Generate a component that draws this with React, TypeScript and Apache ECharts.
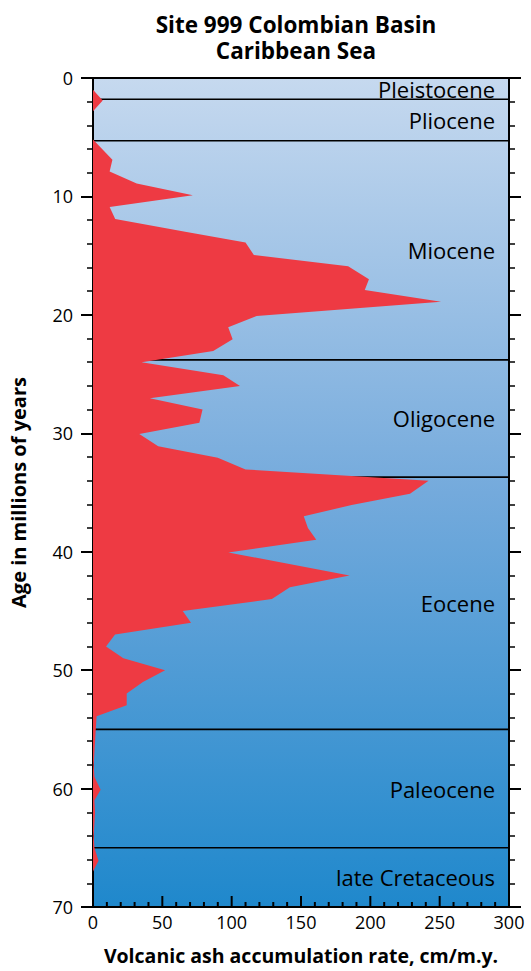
import React, { useEffect, useRef } from "react";
import * as echarts from "echarts";

// Volcanic ash profile: age (m.y.) and accumulation rate (cm/m.y.)
const ages = [1.0, 1.9, 2.8, 5.2, 6.9, 7.9, 8.9, 9.9, 10.9, 11.9, 13.0, 13.9, 14.95, 15.9, 17.0, 17.9, 18.9, 20.1, 21.05, 22.07, 23.06, 24.0, 25.1, 26.0, 27.05, 28.0, 29.1, 30.07, 31.1, 32.07, 33.05, 34.0, 35.1, 36.06, 37.0, 38.0, 39.0, 40.06, 42.0, 43.0, 44.0, 45.0, 46.0, 47.0, 48.0, 49.0, 50.0, 51.0, 51.97, 52.96, 53.9, 55, 56, 57, 58, 59, 60.1, 61, 62, 63, 64, 65, 66.1, 67.0];
const rates = [0, 7, 0, 0, 14, 12, 31.5, 72, 12, 16, 67.5, 110, 116, 184, 199, 196, 251, 118, 97.5, 100.7, 86.7, 35, 94, 106, 41, 79, 76.7, 33.4, 47, 90, 110, 242, 228.6, 186.5, 152, 155, 161, 97.6, 185, 142, 129, 64.7, 70.7, 15.9, 9.4, 21.9, 52, 36, 24.3, 24.3, 2.6, 2, 1.5, 1, 0.5, 1, 5.5, 1, 1.5, 1, 0.5, 1, 4, 0];

// Epochs
const epochNames = ["Pleistocene", "Pliocene", "Miocene", "Oligocene", "Eocene", "Paleocene", "late Cretaceous"];
const epochStarts = [0, 1.8, 5.3, 23.8, 33.7, 55, 65];
const epochEnds = [1.8, 5.3, 23.8, 33.7, 55, 65, 70];

const titleLines = ["Site 999 Colombian Basin", "Caribbean Sea"];

// [min, max, major interval, minor step]
const xTicks = [0, 300, 50, 10];
const yTicks = [0, 70, 10, 2];

const FONT = "'Open Sans', 'Noto Sans', sans-serif";

export default function App() {
  const ref = useRef<HTMLDivElement>(null);
  useEffect(() => {
    if (!ref.current) return;
    const chart = echarts.init(ref.current, undefined, { renderer: "svg" });
    const axisLineStyle = { color: "#000", width: 2 };
    const yAxisBase = {
      type: "value",
      inverse: true,
      min: yTicks[0],
      max: yTicks[1],
      interval: yTicks[2],
      axisLine: { show: true, onZero: false, lineStyle: axisLineStyle },
      axisTick: { show: true, inside: false, length: 12, lineStyle: { color: "#000", width: 2 } },
      minorTick: { show: true, splitNumber: 5, length: 6, lineStyle: { color: "#000", width: 1.5 } },
      splitLine: { show: false },
      minorSplitLine: { show: false },
    };
    const bottomTickValues: number[] = [];
    for (let v = xTicks[0]; v <= xTicks[1]; v += xTicks[3]) bottomTickValues.push(v);

    chart.setOption({
      animation: false,
      textStyle: { fontFamily: FONT },
      grid: {
        left: 93,
        right: 22,
        top: 78,
        bottom: 64,
        show: true,
        borderWidth: 0,
        backgroundColor: new echarts.graphic.LinearGradient(0, 0, 0, 1, [
          { offset: 0, color: "#c6d9ef" },
          { offset: 0.5, color: "#74aadc" },
          { offset: 1, color: "#1f88cc" },
        ]),
      },
      graphic: titleLines.map((t, i) => ({
        type: "text",
        x: 296,
        y: 24 + i * 26,
        style: {
          text: t,
          align: "center",
          verticalAlign: "middle",
          fontFamily: FONT,
          fontSize: 22.5,
          lineHeight: 24,
          fontWeight: "bold",
          fill: "#000",
        },
      })),
      xAxis: [
        {
          type: "value",
          position: "bottom",
          min: xTicks[0],
          max: xTicks[1],
          interval: xTicks[2],
          axisLine: { show: true, onZero: false, lineStyle: axisLineStyle },
          axisTick: { show: false },
          minorTick: { show: false },
          splitLine: { show: false },
          axisLabel: { color: "#000", fontSize: 18, margin: 6, fontFamily: FONT },
          name: "Volcanic ash accumulation rate, cm/m.y.",
          nameLocation: "middle",
          nameGap: 38,
          nameTextStyle: { color: "#000", fontSize: 19.5, fontWeight: "bold", fontFamily: FONT },
        },
        {
          type: "value",
          position: "top",
          min: xTicks[0],
          max: xTicks[1],
          interval: xTicks[2],
          axisLine: { show: true, onZero: false, lineStyle: axisLineStyle },
          axisTick: { show: false },
          minorTick: { show: false },
          axisLabel: { show: false },
          splitLine: { show: false },
        },
      ],
      yAxis: [
        {
          ...yAxisBase,
          position: "left",
          axisLabel: { color: "#000", fontSize: 18, margin: 20, fontFamily: FONT },
          name: "Age in millions of years",
          nameLocation: "middle",
          nameGap: 65,
          nameTextStyle: { color: "#000", fontSize: 20, fontWeight: "bold", fontFamily: FONT },
        },
        {
          ...yAxisBase,
          position: "right",
          axisLabel: { show: false },
        },
      ],
      series: [
        {
          type: "custom",
          name: "epochs",
          coordinateSystem: "cartesian2d",
          z: 1,
          data: epochStarts.map((s, i) => [0, s, epochEnds[i]]),
          encode: { x: 0, y: [1, 2] },
          renderItem: (params: any, api: any) => {
            const i = params.dataIndex;
            const s = api.value(1);
            const e = api.value(2);
            const pl = api.coord([xTicks[0], e]);
            const pr = api.coord([xTicks[1], e]);
            const mid = api.coord([xTicks[1], (s + e) / 2]);
            const children: any[] = [];
            if (e < yTicks[1]) {
              children.push({
                type: "line",
                shape: { x1: pl[0], y1: pl[1], x2: pr[0], y2: pr[1] },
                style: { stroke: "#000", lineWidth: 1.6 },
              });
            }
            children.push({
              type: "text",
              x: mid[0] - 14,
              y: mid[1],
              style: {
                text: epochNames[i],
                align: "right",
                verticalAlign: "middle",
                fontFamily: FONT,
                fontSize: 22,
                fill: "#000",
              },
            });
            return { type: "group", children };
          },
        },
        {
          type: "custom",
          name: "ash",
          coordinateSystem: "cartesian2d",
          z: 2,
          clip: true,
          data: [[rates[0], ages[0]]],
          renderItem: (params: any, api: any) => {
            const pts: number[][] = [];
            pts.push(api.coord([0, ages[0]]));
            for (let i = 0; i < ages.length; i++) pts.push(api.coord([rates[i], ages[i]]));
            pts.push(api.coord([0, ages[ages.length - 1]]));
            return { type: "polygon", shape: { points: pts }, style: { fill: "#ee3a43" } };
          },
        },
        {
          type: "custom",
          name: "bottomTicks",
          coordinateSystem: "cartesian2d",
          z: 10,
          clip: false,
          silent: true,
          data: bottomTickValues.map((v) => [v, yTicks[1] - 0.5]),
          encode: { x: 0, y: 1 },
          renderItem: (params: any, api: any) => {
            const v = api.value(0);
            const p = api.coord([v, yTicks[1]]);
            const major = v % xTicks[2] === 0;
            const len = major ? 11 : 5;
            return {
              type: "rect",
              shape: { x: p[0] - 1, y: p[1] - len, width: 2, height: len },
              style: { fill: "#000" },
            };
          },
        },
      ],
    });
    return () => chart.dispose();
  }, []);
  return <div ref={ref} style={{ width: 531, height: 971, position: "absolute", left: 0, top: 0 }} />;
}
